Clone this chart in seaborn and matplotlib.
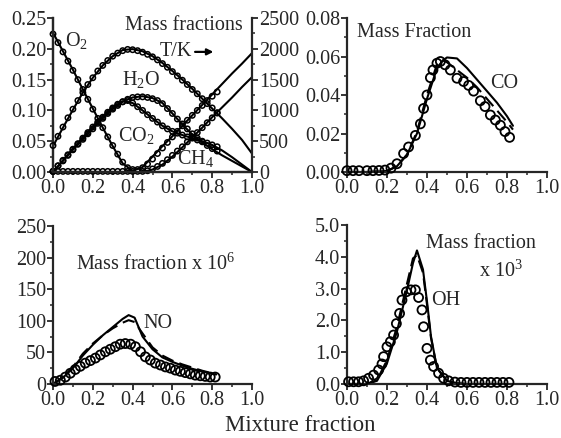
import numpy as np
import pandas as pd
import matplotlib
matplotlib.use("Agg")
import matplotlib.pyplot as plt
from matplotlib.ticker import MultipleLocator
import seaborn as sns

# ---- data ----
# model grid (mixture fraction) for the major species / temperature
z_mod = [0.0, 0.05, 0.1, 0.15, 0.2, 0.25, 0.3, 0.35, 0.4, 0.45, 0.5,
         0.55, 0.6, 0.65, 0.7, 0.75, 0.8, 0.85, 0.9, 0.95, 1.0]
T_mod = [420, 720, 1010, 1290, 1530, 1730, 1880, 1980, 1995, 1960, 1880,
         1770, 1640, 1500, 1350, 1190, 1030, 870, 700, 520, 300]
O2_mod = [0.226, 0.196, 0.166, 0.134, 0.103, 0.072, 0.042, 0.014, 0.002, 0.008, 0.025,
          0.042, 0.058, 0.075, 0.092, 0.109, 0.126, 0.143, 0.160, 0.176, 0.193]
H2O_mod = [0.0, 0.018, 0.036, 0.053, 0.070, 0.087, 0.102, 0.114, 0.121, 0.123, 0.120,
           0.112, 0.095, 0.077, 0.061, 0.048, 0.037, 0.027, 0.018, 0.009, 0.0]
CO2_mod = [0.0, 0.019, 0.038, 0.056, 0.074, 0.090, 0.105, 0.115, 0.112, 0.100, 0.087,
           0.075, 0.066, 0.060, 0.055, 0.050, 0.044, 0.035, 0.024, 0.012, 0.0]
CH4_mod = [0.0, 0.0, 0.0, 0.0, 0.0, 0.0, 0.0, 0.0, 0.0, 0.0, 0.004,
           0.012, 0.025, 0.040, 0.056, 0.072, 0.089, 0.105, 0.121, 0.138, 0.154]

# measured points (open circles), major species
z_exp = [0.0, 0.025, 0.05, 0.075, 0.1, 0.125, 0.15, 0.175, 0.2, 0.225, 0.25, 0.275,
         0.3, 0.325, 0.35, 0.375, 0.4, 0.425, 0.45, 0.475, 0.5, 0.525, 0.55, 0.575,
         0.6, 0.625, 0.65, 0.675, 0.7, 0.725, 0.75, 0.775, 0.8, 0.825]
T_exp = [430, 580, 730, 880, 1020, 1160, 1290, 1420, 1530, 1640, 1730, 1810,
         1880, 1930, 1970, 1990, 1985, 1970, 1945, 1910, 1870, 1820, 1760, 1700,
         1630, 1560, 1490, 1420, 1340, 1270, 1190, 1110, 1040, 960]
O2_exp = [0.224, 0.210, 0.195, 0.180, 0.165, 0.150, 0.134, 0.118, 0.102, 0.087, 0.072, 0.057,
          0.043, 0.029, 0.016, 0.007, 0.004, 0.004, 0.007, 0.013, 0.021, 0.030, 0.039, 0.048,
          0.057, 0.066, 0.075, 0.084, 0.092, 0.100, 0.108, 0.116, 0.123, 0.130]
H2O_exp = [0.001, 0.010, 0.018, 0.027, 0.036, 0.045, 0.053, 0.062, 0.070, 0.079, 0.087, 0.095,
           0.102, 0.108, 0.114, 0.118, 0.121, 0.122, 0.122, 0.121, 0.119, 0.116, 0.111, 0.103,
           0.095, 0.086, 0.078, 0.070, 0.062, 0.055, 0.049, 0.043, 0.038, 0.034]
CO2_exp = [0.001, 0.010, 0.019, 0.028, 0.037, 0.046, 0.055, 0.064, 0.073, 0.081, 0.089, 0.097,
           0.104, 0.110, 0.114, 0.116, 0.112, 0.106, 0.100, 0.093, 0.087, 0.081, 0.075, 0.070,
           0.066, 0.063, 0.060, 0.057, 0.055, 0.052, 0.050, 0.047, 0.044, 0.041]
CH4_exp = [0.001, 0.001, 0.001, 0.001, 0.001, 0.001, 0.001, 0.001, 0.001, 0.001, 0.001, 0.001,
           0.001, 0.001, 0.001, 0.001, 0.001, 0.001, 0.001, 0.002, 0.005, 0.009, 0.014, 0.020,
           0.027, 0.034, 0.041, 0.049, 0.057, 0.064, 0.072, 0.080, 0.088, 0.096]

# CO
z_co = [0.0, 0.1, 0.2, 0.25, 0.3, 0.35, 0.4, 0.45, 0.48, 0.5, 0.55,
        0.6, 0.65, 0.7, 0.75, 0.8, 0.83]
CO_solid = [0.0, 0.0, 0.0005, 0.003, 0.009, 0.020, 0.038, 0.054, 0.058, 0.0595, 0.059,
            0.054, 0.048, 0.042, 0.036, 0.029, 0.024]
CO_dash = [0.0, 0.0, 0.0005, 0.003, 0.009, 0.021, 0.040, 0.056, 0.058, 0.057, 0.053,
           0.049, 0.044, 0.038, 0.032, 0.026, 0.022]
z_co_exp = [0.0, 0.03, 0.06, 0.1, 0.13, 0.16, 0.19, 0.22, 0.25, 0.283, 0.308, 0.342,
            0.367, 0.383, 0.4, 0.417, 0.43, 0.45, 0.467, 0.49, 0.517, 0.55, 0.583,
            0.608, 0.633, 0.667, 0.69, 0.717, 0.742, 0.767, 0.79, 0.813]
CO_exp = [0.0007, 0.0007, 0.0007, 0.0007, 0.0007, 0.0008, 0.001, 0.002, 0.0043, 0.0096, 0.013,
          0.019, 0.025, 0.033, 0.040, 0.049, 0.053, 0.0565, 0.0574, 0.0557, 0.053, 0.0487,
          0.047, 0.045, 0.042, 0.037, 0.034, 0.0296, 0.027, 0.0243, 0.021, 0.018]

# NO (x 1e6)
z_no = [0.0, 0.05, 0.1, 0.15, 0.2, 0.25, 0.3, 0.35, 0.38, 0.41, 0.45, 0.5,
        0.55, 0.6, 0.65, 0.7, 0.75, 0.8, 0.82]
NO_solid = [0, 10, 25, 45, 62, 77, 90, 103, 109, 105, 75, 55, 42, 35, 29, 24, 20, 16, 15]
NO_dash = [0, 11, 27, 48, 64, 77, 88, 97, 101, 98, 80, 58, 45, 37, 31, 26, 21, 17, 16]
z_no_exp = [0.01, 0.037, 0.062, 0.087, 0.112, 0.137, 0.162, 0.188, 0.213, 0.238, 0.263,
            0.288, 0.313, 0.338, 0.363, 0.39, 0.414, 0.44, 0.464, 0.489, 0.514, 0.54,
            0.565, 0.59, 0.615, 0.64, 0.665, 0.69, 0.715, 0.74, 0.765, 0.79, 0.815]
NO_exp = [4, 6, 11, 17, 23, 28, 33, 37, 41, 46, 51, 55, 59, 63, 64, 63, 59, 51, 43, 38,
          33, 30, 27, 25, 22, 20, 18, 16, 14, 13, 12, 11, 11]

# OH (x 1e3)
z_oh = [0.0, 0.1, 0.15, 0.2, 0.25, 0.3, 0.33, 0.35, 0.38, 0.4, 0.42, 0.45,
        0.5, 0.55, 0.6, 0.7, 0.8]
OH_solid = [0.0, 0.0, 0.1, 0.65, 1.65, 2.95, 3.8, 4.2, 3.6, 2.6, 1.5, 0.5,
            0.1, 0.02, 0.0, 0.0, 0.0]
OH_dash = [0.0, 0.0, 0.12, 0.75, 1.8, 3.15, 3.95, 4.05, 3.5, 2.5, 1.45, 0.5,
           0.1, 0.02, 0.0, 0.0, 0.0]
z_oh_exp = [0.008, 0.033, 0.058, 0.083, 0.108, 0.133, 0.158, 0.175, 0.183, 0.2, 0.217,
            0.233, 0.247, 0.263, 0.275, 0.297, 0.32, 0.342, 0.358, 0.375, 0.383, 0.4,
            0.417, 0.433, 0.458, 0.483, 0.508, 0.54, 0.57, 0.6, 0.63, 0.66, 0.69,
            0.72, 0.75, 0.78, 0.81]
OH_exp = [0.07, 0.07, 0.07, 0.1, 0.18, 0.28, 0.44, 0.63, 0.86, 1.17, 1.33, 1.54, 1.9,
          2.22, 2.64, 2.9, 2.96, 2.96, 2.72, 2.33, 1.8, 1.12, 0.75, 0.55, 0.34, 0.18,
          0.1, 0.06, 0.05, 0.05, 0.05, 0.05, 0.05, 0.05, 0.05, 0.05, 0.05]

# ---- style ----
sns.set_style("ticks")
plt.rcParams["font.family"] = ["Liberation Serif", "DejaVu Serif"]
plt.rcParams["mathtext.fontset"] = "custom"
plt.rcParams["mathtext.rm"] = "Liberation Serif"
plt.rcParams["mathtext.it"] = "Liberation Serif:italic"
plt.rcParams["axes.linewidth"] = 1.6
FS = 14.5

fig = plt.figure(figsize=(5.61, 4.38), dpi=100)
ax1 = fig.add_axes([0.0945, 0.6073, 0.3547, 0.3516])
ax2 = fig.add_axes([0.6185, 0.6073, 0.3565, 0.3516])
ax3 = fig.add_axes([0.0945, 0.1233, 0.3547, 0.3607])
ax4 = fig.add_axes([0.6185, 0.1233, 0.3565, 0.3630])


def circles(ax, x, y, s, lw=1.3):
    sns.scatterplot(x=x, y=y, ax=ax, marker="o", s=s, facecolor="none",
                    edgecolor="black", linewidth=lw, zorder=3, clip_on=False)


def style(ax, ymax, ymajor, yfmt):
    ax.set_xlim(0, 1)
    ax.set_ylim(0, ymax)
    ax.xaxis.set_major_locator(MultipleLocator(0.2))
    ax.xaxis.set_minor_locator(MultipleLocator(0.1))
    ax.yaxis.set_major_locator(MultipleLocator(ymajor))
    ax.yaxis.set_minor_locator(MultipleLocator(ymajor / 2))
    ax.yaxis.set_major_formatter(yfmt)
    ax.xaxis.set_major_formatter(lambda v, p: f"{v:.1f}")
    ax.tick_params(which="major", length=4, width=1.3, labelsize=FS, pad=1)
    ax.tick_params(which="minor", length=2.5, width=1.1)
    ax.set_xlabel("")
    ax.set_ylabel("")
    sns.despine(ax=ax)


def label(ax, x, y, s):
    ax.text(x, y, s, fontsize=FS, va="center", ha="left")


# top left: major species + temperature
for yy in [O2_mod, H2O_mod, CO2_mod, CH4_mod]:
    sns.lineplot(x=z_mod, y=yy, ax=ax1, color="black", lw=1.5)
for yy in [O2_exp, H2O_exp, CO2_exp, CH4_exp]:
    circles(ax1, z_exp, yy, s=15, lw=1.1)
style(ax1, 0.25, 0.05, lambda v, p: f"{v:.2f}")
ax1t = ax1.twinx()
sns.lineplot(x=z_mod, y=T_mod, ax=ax1t, color="black", lw=1.5)
circles(ax1t, z_exp, T_exp, s=15, lw=1.1)
ax1t.set_ylim(0, 2500)
ax1t.yaxis.set_major_locator(MultipleLocator(500))
ax1t.yaxis.set_minor_locator(MultipleLocator(250))
ax1t.tick_params(which="major", length=4, width=1.3, labelsize=FS, pad=1)
ax1t.tick_params(which="minor", length=2.5, width=1.1)
ax1t.set_ylabel("")
ax1t.spines["top"].set_visible(False)
label(ax1, 0.062, 0.214, "O$_2$")
label(ax1, 0.36, 0.238, "Mass fractions")
label(ax1, 0.538, 0.195, "T/K")
ax1.annotate("", xy=(0.82, 0.195), xytext=(0.70, 0.195),
             arrowprops=dict(arrowstyle="-|>", color="black", lw=1.6, mutation_scale=9))
label(ax1, 0.345, 0.150, "H$_2$O")
label(ax1, 0.325, 0.060, "CO$_2$")
label(ax1, 0.625, 0.022, "CH$_4$")

# top right: CO
sns.lineplot(x=z_co, y=CO_solid, ax=ax2, color="black", lw=1.5)
sns.lineplot(x=z_co, y=CO_dash, ax=ax2, color="black", lw=1.5, linestyle=(0, (6, 3)))
circles(ax2, z_co_exp, CO_exp, s=42)
style(ax2, 0.08, 0.02, lambda v, p: f"{v:.2f}")
label(ax2, 0.05, 0.0727, "Mass Fraction")
label(ax2, 0.715, 0.046, "CO")

# bottom left: NO
sns.lineplot(x=z_no, y=NO_solid, ax=ax3, color="black", lw=1.5)
sns.lineplot(x=z_no, y=NO_dash, ax=ax3, color="black", lw=1.5, linestyle=(0, (6, 3)))
circles(ax3, z_no_exp, NO_exp, s=42)
style(ax3, 250, 50, lambda v, p: f"{v:.0f}")
label(ax3, 0.115, 190, "Mass fraction x 10$^6$")
label(ax3, 0.455, 96, "NO")

# bottom right: OH
sns.lineplot(x=z_oh, y=OH_solid, ax=ax4, color="black", lw=1.5)
sns.lineplot(x=z_oh, y=OH_dash, ax=ax4, color="black", lw=1.5, linestyle=(0, (6, 3)))
circles(ax4, z_oh_exp, OH_exp, s=42)
style(ax4, 5.0, 1.0, lambda v, p: f"{v:.1f}")
label(ax4, 0.395, 4.43, "Mass fraction")
label(ax4, 0.66, 3.55, "x 10$^3$")
label(ax4, 0.42, 2.62, "OH")

fig.text(0.535, 0.028, "Mixture fraction", fontsize=16.5, ha="center", va="center")

fig.savefig("out.png", dpi=100)
